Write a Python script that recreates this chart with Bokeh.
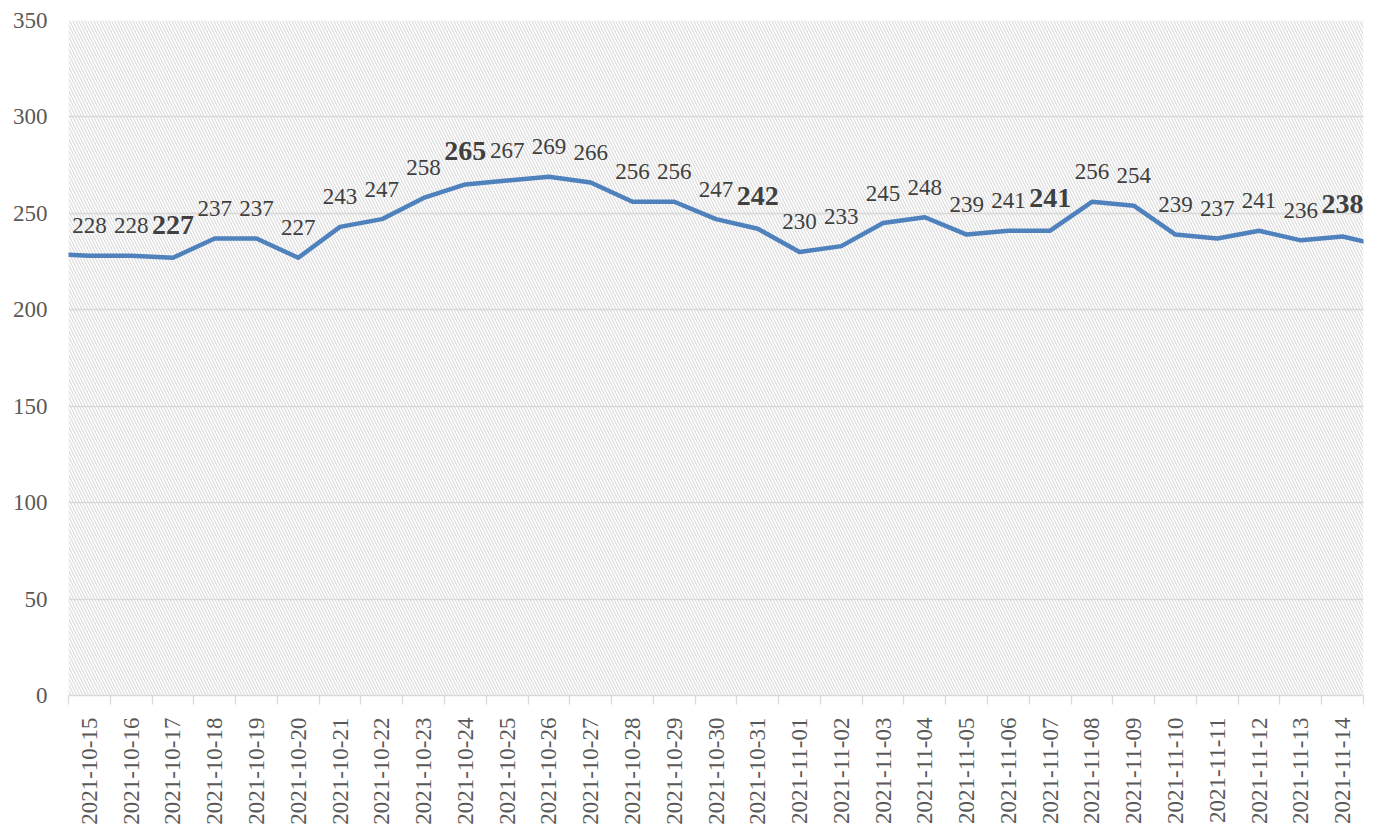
import math
from bokeh.plotting import figure
from bokeh.models import (ColumnDataSource, FixedTicker, Range1d, LabelSet, BoxAnnotation)
from bokeh.embed import file_html
from bokeh.resources import INLINE

# ---- data ----
dates = ["2021-10-15", "2021-10-16", "2021-10-17", "2021-10-18", "2021-10-19",
         "2021-10-20", "2021-10-21", "2021-10-22", "2021-10-23", "2021-10-24",
         "2021-10-25", "2021-10-26", "2021-10-27", "2021-10-28", "2021-10-29",
         "2021-10-30", "2021-10-31", "2021-11-01", "2021-11-02", "2021-11-03",
         "2021-11-04", "2021-11-05", "2021-11-06", "2021-11-07", "2021-11-08",
         "2021-11-09", "2021-11-10", "2021-11-11", "2021-11-12", "2021-11-13",
         "2021-11-14"]
values = [228, 228, 227, 237, 237, 227, 243, 247, 258, 265, 267, 269, 266, 256,
          256, 247, 242, 230, 233, 245, 248, 239, 241, 241, 256, 254, 239, 237,
          241, 236, 238]
bold_dates = ["2021-10-17", "2021-10-24", "2021-10-31", "2021-11-07", "2021-11-14"]
# neighbouring days outside the visible window (line runs off both edges)
prev_value = 229
next_value = 233
y_ticks = [0, 50, 100, 150, 200, 250, 300, 350]

FONT = "Liberation Serif"
n = len(dates)
xs = list(range(n))

line_src = ColumnDataSource(dict(x=[-1] + xs + [n], y=[prev_value] + values + [next_value]))
norm_idx = [i for i, d in enumerate(dates) if d not in bold_dates]
bold_idx = [i for i, d in enumerate(dates) if d in bold_dates]
norm_src = ColumnDataSource(dict(x=[xs[i] for i in norm_idx], y=[values[i] for i in norm_idx],
                                 t=[str(values[i]) for i in norm_idx]))
bold_src = ColumnDataSource(dict(x=[xs[i] for i in bold_idx], y=[values[i] for i in bold_idx],
                                 t=[str(values[i]) for i in bold_idx]))

p = figure(frame_width=1295, frame_height=675,
           x_range=Range1d(-0.5, n - 0.5), y_range=Range1d(y_ticks[0], y_ticks[-1]),
           output_backend="svg", toolbar_location=None,
           min_border_left=68, min_border_top=20, min_border_right=8, min_border_bottom=0)
p.outline_line_color = None
p.background_fill_color = "white"
p.border_fill_color = "white"

# hatched plot area
p.add_layout(BoxAnnotation(fill_alpha=0, line_alpha=0, hatch_pattern="\\",
                           hatch_color="#dcdcdc", hatch_scale=6, hatch_weight=1.2,
                           level="image"))

p.xgrid.visible = False
p.ygrid.grid_line_color = "#d9d9d9"
p.ygrid.grid_line_width = 1.3
p.ygrid.ticker = FixedTicker(ticks=y_ticks)

p.line("x", "y", source=line_src, line_color="#4f81bd", line_width=4.5,
       line_join="round")

p.add_layout(LabelSet(x="x", y="y", text="t", source=norm_src, y_offset=30,
                      text_align="center", text_baseline="middle",
                      text_font=FONT, text_font_size="23px", text_color="#404040"))
p.add_layout(LabelSet(x="x", y="y", text="t", source=bold_src, y_offset=33,
                      text_align="center", text_baseline="middle",
                      text_font=FONT, text_font_size="28px", text_font_style="bold",
                      text_color="#404040"))

# y axis
ya = p.yaxis[0]
ya.ticker = FixedTicker(ticks=y_ticks)
ya.axis_line_color = None
ya.major_tick_line_color = None
ya.minor_tick_line_color = None
ya.major_label_standoff = 15
ya.major_label_text_font = FONT
ya.major_label_text_font_size = "23px"
ya.major_label_text_color = "#595959"

# x axis
xa = p.xaxis[0]
xa.ticker = FixedTicker(ticks=xs, minor_ticks=[i - 0.5 for i in range(n + 1)])
xa.major_label_overrides = {i: d for i, d in enumerate(dates)}
xa.major_label_orientation = math.pi / 2
xa.axis_line_color = "#d9d9d9"
xa.axis_line_width = 1.3
xa.major_tick_line_color = None
xa.major_tick_out = 0
xa.major_tick_in = 0
xa.minor_tick_line_color = "#d9d9d9"
xa.minor_tick_line_width = 1.3
xa.minor_tick_out = 9
xa.minor_tick_in = 0
xa.major_label_standoff = 13
xa.major_label_text_font = FONT
xa.major_label_text_font_size = "23px"
xa.major_label_text_color = "#595959"

open("out.html", "w").write(file_html(p, INLINE))
